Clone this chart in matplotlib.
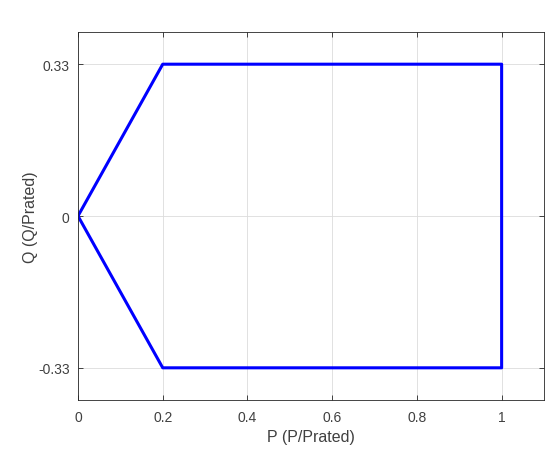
import matplotlib
matplotlib.use("Agg")
import matplotlib.pyplot as plt

# Capability curve points (P, Q)
p_vals = [0, 0.2, 1.0, 1.0, 0.2, 0]
q_vals = [0, 0.33, 0.33, -0.33, -0.33, 0]

x_ticks = [0, 0.2, 0.4, 0.6, 0.8, 1.0]
x_tick_labels = ["0", "0.2", "0.4", "0.6", "0.8", "1"]
y_ticks = [-0.33, 0, 0.33]
y_tick_labels = ["-0.33", "0", "0.33"]

plt.rcParams["font.family"] = ["Liberation Sans", "DejaVu Sans"]

fig = plt.figure(figsize=(5.52, 4.52), dpi=100)
ax = fig.add_axes([0.1413, 0.1128, 0.8442, 0.8142])

ax.plot(p_vals, q_vals, color="#0000ff", lw=2.2)

ax.set_xlim(0, 1.1)
ax.set_ylim(-0.4, 0.4)
ax.set_xticks(x_ticks)
ax.set_xticklabels(x_tick_labels)
ax.set_yticks(y_ticks)
ax.set_yticklabels(y_tick_labels)

ax.grid(True, color="#dcdcdc", lw=0.6)
ax.set_axisbelow(True)
ax.tick_params(direction="in", top=True, right=True, length=3.5,
               width=0.6, color="#262626", labelsize=10, labelcolor="#404040")
ax.tick_params(axis="x", pad=7)
ax.tick_params(axis="y", pad=6)
for s in ax.spines.values():
    s.set_color("#262626")
    s.set_linewidth(0.6)

ax.set_xlabel("P (P/Prated)", fontsize=11.5, color="#404040", labelpad=4)
ax.set_ylabel("Q (Q/Prated)", fontsize=11.5, color="#404040", labelpad=0)

fig.savefig("out.png", dpi=100)
